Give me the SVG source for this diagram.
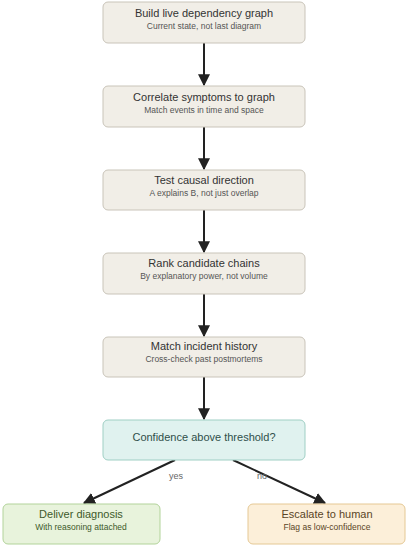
<svg xmlns="http://www.w3.org/2000/svg" width="409" height="550" viewBox="0 0 409 550">
<defs>
<style>
.box rect{fill:#f1eee7;stroke:#c9c4b9;stroke-width:1}
.dec rect{fill:#e0f2ef;stroke:#9fcfc4;stroke-width:1}
.yes rect{fill:#e8f3dc;stroke:#b2d39a;stroke-width:1}
.no rect{fill:#fcefd9;stroke:#e5c894;stroke-width:1}
.t{font-family:"Liberation Sans",Arial,sans-serif;font-size:11px;fill:#333;text-anchor:middle}
.s{font-family:"Liberation Sans",Arial,sans-serif;font-size:8.5px;fill:#555;text-anchor:middle}
.dec .t{fill:#2f4f4a}
.yes .t,.yes .s{fill:#3d5a2a}
.no .t,.no .s{fill:#5a4526}
.edge{stroke:#222;stroke-width:2;fill:none}
.lbl{font-family:"Liberation Sans",Arial,sans-serif;font-size:9px;fill:#666;text-anchor:middle}
</style>
<marker id="ah" viewBox="0 0 10 10" refX="9" refY="5" markerWidth="6" markerHeight="6" markerUnits="strokeWidth" orient="auto">
<path d="M0,0 L10,5 L0,10 z" fill="#222"/>
</marker>
</defs>
<g id="connectors">
<line class="edge" x1="204" y1="43" x2="204" y2="85" marker-end="url(#ah)"/>
<line class="edge" x1="204" y1="127" x2="204" y2="169" marker-end="url(#ah)"/>
<line class="edge" x1="204" y1="210" x2="204" y2="252" marker-end="url(#ah)"/>
<line class="edge" x1="204" y1="294" x2="204" y2="336" marker-end="url(#ah)"/>
<line class="edge" x1="204" y1="377" x2="204" y2="419" marker-end="url(#ah)"/>
<line class="edge" x1="175" y1="460" x2="84" y2="503" marker-end="url(#ah)"/>
<line class="edge" x1="233" y1="460" x2="325" y2="503" marker-end="url(#ah)"/>
<text class="lbl" x="176" y="479">yes</text>
<text class="lbl" x="262" y="479">no</text>
</g>
<g id="n1" class="box"><rect x="103" y="2" width="202" height="41" rx="5"/><text class="t" x="204" y="17">Build live dependency graph</text><text class="s" x="204" y="29">Current state, not last diagram</text></g>
<g id="n2" class="box"><rect x="103" y="86" width="202" height="41" rx="5"/><text class="t" x="204" y="101">Correlate symptoms to graph</text><text class="s" x="204" y="113">Match events in time and space</text></g>
<g id="n3" class="box"><rect x="103" y="170" width="202" height="40" rx="5"/><text class="t" x="204" y="184">Test causal direction</text><text class="s" x="204" y="196">A explains B, not just overlap</text></g>
<g id="n4" class="box"><rect x="103" y="253" width="202" height="41" rx="5"/><text class="t" x="204" y="267">Rank candidate chains</text><text class="s" x="204" y="279">By explanatory power, not volume</text></g>
<g id="n5" class="box"><rect x="103" y="337" width="202" height="40" rx="5"/><text class="t" x="204" y="350">Match incident history</text><text class="s" x="204" y="362">Cross-check past postmortems</text></g>
<g id="n6" class="dec"><rect x="103" y="420" width="202" height="40" rx="5"/><text class="t" x="204" y="441">Confidence above threshold?</text></g>
<g id="n7" class="yes"><rect x="3" y="504" width="157" height="40" rx="5"/><text class="t" x="81" y="518">Deliver diagnosis</text><text class="s" x="81" y="530">With reasoning attached</text></g>
<g id="n8" class="no"><rect x="248" y="504" width="157" height="40" rx="5"/><text class="t" x="327" y="518">Escalate to human</text><text class="s" x="327" y="530">Flag as low-confidence</text></g>
</svg>
